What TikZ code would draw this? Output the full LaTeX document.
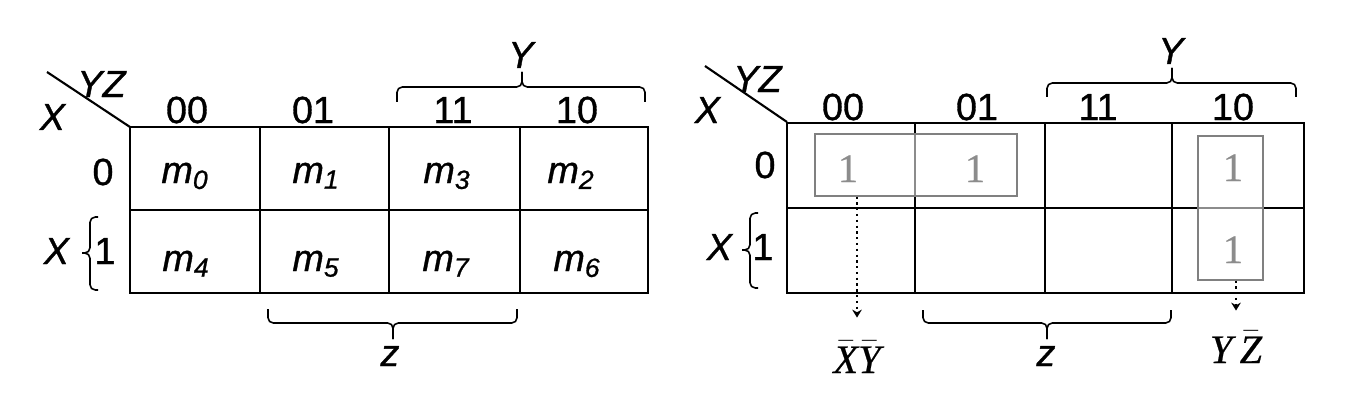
\documentclass[tikz,border=0pt]{standalone}
\usepackage{amsmath}
\usepackage{fontspec}
\setmainfont{Liberation Sans}[FakeBold=0.9]
\newfontfamily\onefont{Liberation Serif}[FakeBold=0.5]
\usetikzlibrary{fit,arrows.meta}

\definecolor{boxgray}{gray}{0.5}
\definecolor{onegray}{gray}{0.55}

\tikzset{
  mapline/.style={line width=1.2pt},
  bracket/.style={line width=0.9pt, rounded corners=3pt},
  lbl/.style={inner sep=0pt, anchor=base},
  grp/.style={draw=boxgray, line width=0.6pt, fill=white, fill opacity=0.55, inner sep=0pt},
  one/.style={lbl, text=onegray, font=\onefont\fontsize{23}{26}\selectfont},
  bar/.style={lbl, font=\onefont\itshape\fontsize{23}{26}\selectfont},
  dotarrow/.style={dotted, line width=1.3pt, -{Stealth[length=4.5pt,width=5.5pt]}}
}

\begin{document}
\begin{tikzpicture}[x=0.02cm, y=-0.02cm, font=\fontsize{21.5}{24}\selectfont]
\useasboundingbox (0,0) rectangle (1348,402);

% left map: minterms
\draw[mapline] (130,127) rectangle (648,293);
\draw[mapline] (260,127) -- (260,293);
\draw[mapline] (389,127) -- (389,293);
\draw[mapline] (520,127) -- (520,293);
\draw[mapline] (130,210) -- (648,210);
\draw[mapline] (47,72) -- (130,127);

\node[lbl] (lyz) at (102,97) {\textit{YZ}};
\node[lbl] (lx) at (53,130) {\textit{X}};
\foreach \code/\cx in {00/187, 01/313, 11/453, 10/577}
  \node[lbl] (lc\code) at (\cx,123) {\code};
\node[lbl] (lr0) at (103,185) {0};
\node[lbl] (lr1) at (105,264) {1};
\node[lbl] (lxr) at (57,264) {\textit{X}};

\foreach \idx/\cx/\cy in {0/185/183, 1/316/183, 3/447/183, 2/571/183,
                          4/186/271, 5/316/271, 7/446/271, 6/577/271}
  \node[lbl] (m\idx) at (\cx,\cy) {$\textit{m}_{\textit{\idx}}$};

\draw[bracket] (397,102) -- (397,87) -- (522,87) -- (522,72);
\draw[bracket] (645,102) -- (645,87) -- (522,87) -- (522,72);
\node[lbl] (ly) at (522,68) {\textit{Y}};

\draw[bracket] (268,309) -- (268,323) -- (393,323) -- (393,339);
\draw[bracket] (517,309) -- (517,323) -- (393,323) -- (393,339);
\node[lbl] (lz) at (390,366) {\textit{z}};

\draw[bracket] (98,217) -- (90,217) -- (90,253) -- (82,253);
\draw[bracket] (98,290) -- (90,290) -- (90,253) -- (82,253);

% right map: grouping
\draw[mapline] (787,123) rectangle (1304,293);
\draw[mapline] (915,123) -- (915,293);
\draw[mapline] (1045,123) -- (1045,293);
\draw[mapline] (1172,123) -- (1172,293);
\draw[mapline] (787,208) -- (1304,208);
\draw[mapline] (705,66) -- (787,122);

\node[lbl] (ryz) at (758,92) {\textit{YZ}};
\node[lbl] (rx) at (708,123) {\textit{X}};
\foreach \code/\cx in {00/843, 01/977, 11/1098, 10/1233}
  \node[lbl] (rc\code) at (\cx,120) {\code};
\node[lbl] (rr0) at (765,178) {0};
\node[lbl] (rr1) at (763,260) {1};
\node[lbl] (rxr) at (720,260) {\textit{X}};

\node[grp, fit={(815,134) (1017,196)}] (g1) {};
\node[grp, fit={(1198,136) (1263,280)}] (g2) {};

\node[one] (one00) at (848,182) {1};
\node[one] (one01) at (975,182) {1};
\node[one] (one02) at (1233,181) {1};
\node[one] (one12) at (1233,263) {1};

\draw[bracket] (1047,97) -- (1047,83) -- (1172,83) -- (1172,68);
\draw[bracket] (1296,97) -- (1296,83) -- (1172,83) -- (1172,68);
\node[lbl] (ry) at (1172,64) {\textit{Y}};

\draw[bracket] (923,310) -- (923,323) -- (1047,323) -- (1047,339);
\draw[bracket] (1171,310) -- (1171,323) -- (1047,323) -- (1047,339);
\node[lbl] (rz) at (1046,366) {\textit{z}};

\draw[bracket] (758,213) -- (750,213) -- (750,250) -- (742,250);
\draw[bracket] (758,288) -- (750,288) -- (750,250) -- (742,250);

\node[bar] (xybar) at (857,373) {$\bar{\text{X}}\bar{\text{Y}}$};
\node[bar] (yzbar) at (1236,363) {$\text{Y}\,\bar{\text{Z}}$};
\draw[dotarrow, shorten >=0.46cm] (g1.south -| xybar.north) -- (xybar.north);
\draw[dotarrow, shorten >=0.40cm] (g2.south -| yzbar.north) -- (yzbar.north);

\end{tikzpicture}
\end{document}
